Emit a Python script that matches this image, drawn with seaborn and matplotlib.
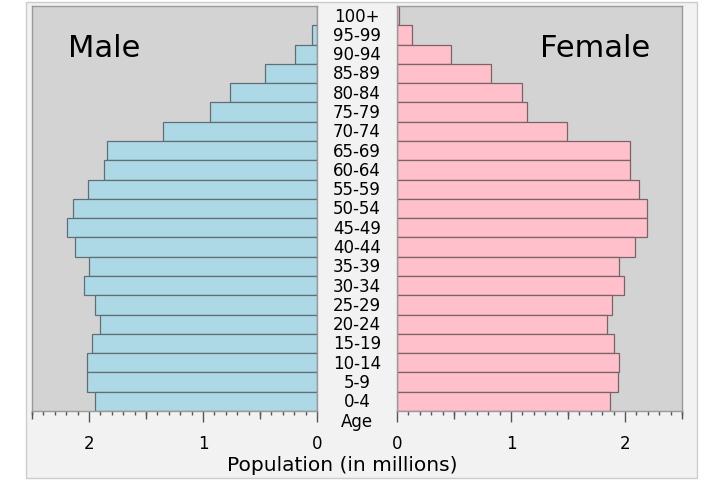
# Population pyramid, male vs female by age group
import matplotlib
matplotlib.use("Agg")
import matplotlib.pyplot as plt
import matplotlib.transforms as mtransforms
from matplotlib.patches import Rectangle
from matplotlib.ticker import MultipleLocator, FixedLocator
import pandas as pd
import seaborn as sns

ages = ['100+', '95-99', '90-94', '85-89', '80-84', '75-79', '70-74', '65-69',
        '60-64', '55-59', '50-54', '45-49', '40-44', '35-39', '30-34', '25-29',
        '20-24', '15-19', '10-14', '5-9', '0-4']
male = [0.003, 0.04, 0.195, 0.46, 0.76, 0.94, 1.35, 1.84, 1.87, 2.01, 2.14,
        2.19, 2.12, 2.00, 2.04, 1.95, 1.90, 1.97, 2.02, 2.02, 1.95]
female = [0.015, 0.135, 0.475, 0.825, 1.10, 1.14, 1.495, 2.04, 2.04, 2.12, 2.19,
          2.19, 2.085, 1.95, 1.99, 1.89, 1.84, 1.90, 1.95, 1.94, 1.87]

df = pd.DataFrame({'age': ages, 'male': male, 'female': female})

fig = plt.figure(figsize=(7.13, 4.81), dpi=100, facecolor='white')
# light grey panel behind the chart
fig.patches.append(Rectangle((26 / 713, 1 - 479 / 481), 671 / 713, 476 / 481,
                             transform=fig.transFigure, facecolor='#f2f2f2',
                             edgecolor='#cccccc', linewidth=1, zorder=-1))

ax1 = fig.add_axes([0.0449, 0.1435, 0.3997, 0.8420])
ax2 = fig.add_axes([0.5568, 0.1435, 0.3997, 0.8420])

sns.barplot(data=df, x='male', y='age', orient='h', color='#add8e6', saturation=1,
            width=1.0, edgecolor='#5f6f75', linewidth=0.9, ax=ax1)
sns.barplot(data=df, x='female', y='age', orient='h', color='#ffc0cb', saturation=1,
            width=1.0, edgecolor='#7a6468', linewidth=0.9, ax=ax2)

ax1.set_xlim(2.5, 0)
ax2.set_xlim(0, 2.5)

for ax in (ax1, ax2):
    ax.set_facecolor('#d3d3d3')
    ax.set_ylabel('')
    ax.set_xlabel('')
    ax.set_yticks([])
    ax.set_ylim(20.5, -0.5)
    for s in ax.spines.values():
        s.set_color('#9a9a9a')
        s.set_linewidth(1)
    ax.xaxis.set_major_locator(MultipleLocator(1))
    ax.xaxis.set_minor_locator(MultipleLocator(0.1))
    ax.tick_params(axis='x', which='major', length=8, width=1, color='#555555',
                   labelsize=12, pad=8.5)
    ax.tick_params(axis='x', which='minor', length=3, width=1, color='#555555')
    # medium ticks at the halves
    sec = ax.secondary_xaxis('bottom')
    sec.xaxis.set_major_locator(FixedLocator([0.5, 1.5, 2.5]))
    sec.tick_params(length=6, width=1, color='#555555', labelbottom=False)
    sec.spines['bottom'].set_visible(False)

# age labels in the gap between the two halves
trans = mtransforms.blended_transform_factory(fig.transFigure, ax1.transData)
for i, a in enumerate(ages + ['Age']):
    ax1.text(0.5007, i, a, transform=trans, ha='center', va='center',
             fontsize=12, clip_on=False)

fig.text(0.146, 0.900, 'Male', fontsize=22, ha='center', va='center')
fig.text(0.834, 0.900, 'Female', fontsize=22, ha='center', va='center')
fig.text(0.480, 0.033, 'Population (in millions)', fontsize=14.5,
         ha='center', va='center')

plt.savefig('out.png', dpi=100, facecolor='white')
